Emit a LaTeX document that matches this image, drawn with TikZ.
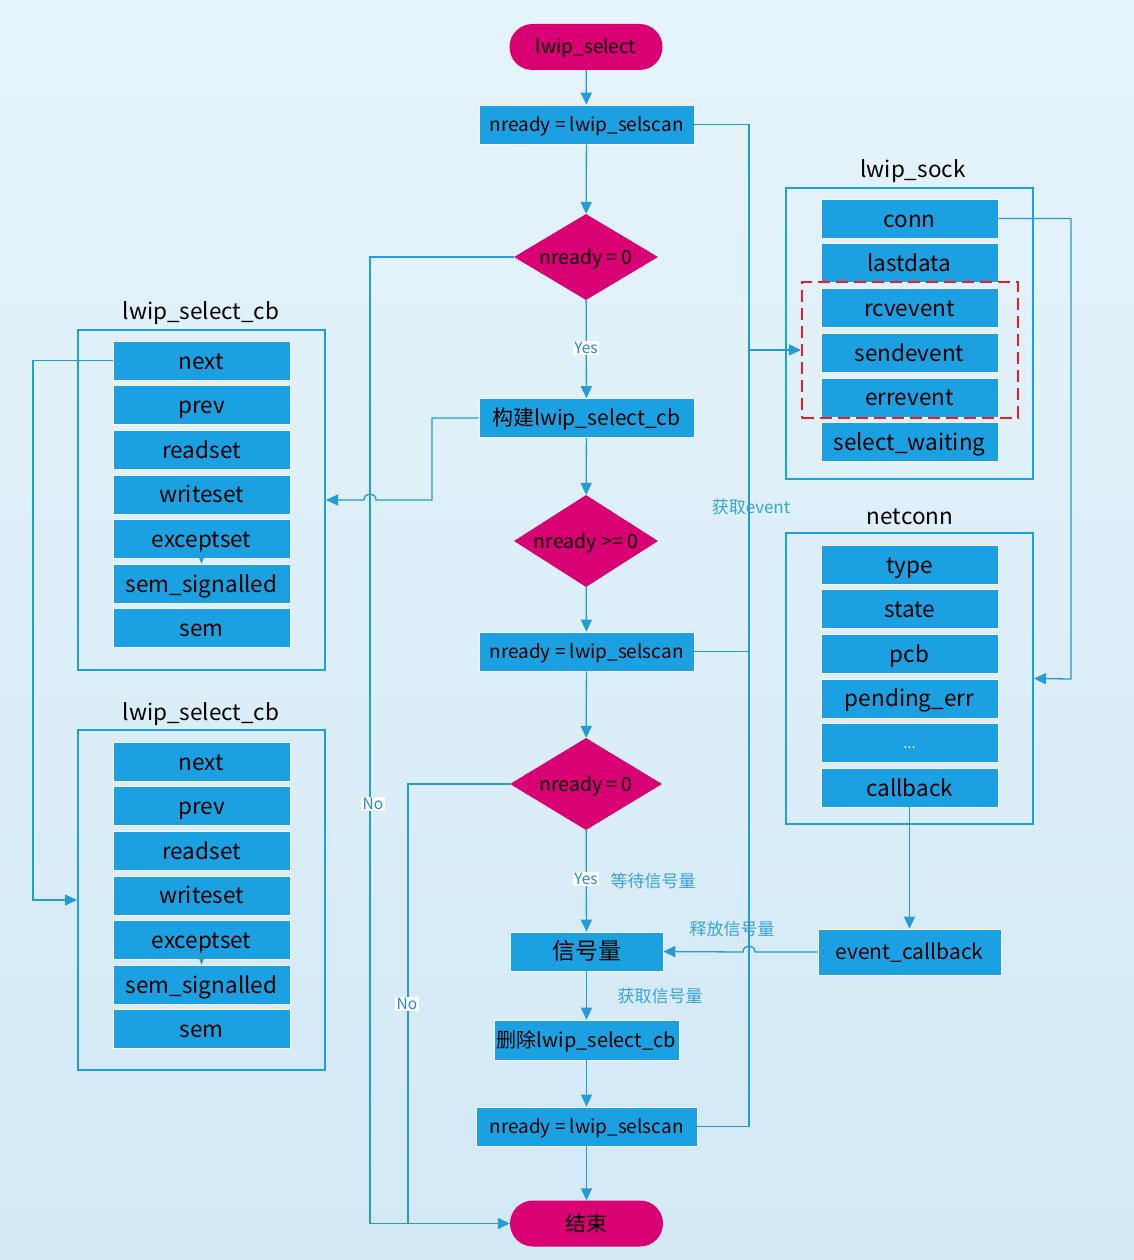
\documentclass[tikz,border=0pt]{standalone}
\usepackage{fontspec}
\setmainfont{Noto Sans CJK SC}
\usetikzlibrary{arrows.meta,shapes.geometric}
\definecolor{fblue}{HTML}{1BA1E2}
\definecolor{mag}{HTML}{D80073}
\definecolor{lnc}{HTML}{239CD8}
\definecolor{lbl}{HTML}{3AA2DC}
\definecolor{ynt}{HTML}{2A8CC6}
\definecolor{bgt}{HTML}{E6F4FB}
\definecolor{bgb}{HTML}{D3E9F6}
\definecolor{dred}{HTML}{EE1C25}
\begin{document}
\begin{tikzpicture}[x=1pt,y=-1pt,
 field/.style={draw=white, line width=0.6pt, fill=fblue, minimum width=177pt, minimum height=39pt, inner sep=0pt, text height=17pt, text depth=0pt, font=\fontsize{22.5}{26}\selectfont},
 proc/.style={draw=white, line width=0.6pt, fill=fblue, minimum height=39pt, inner sep=0pt, text height=14pt, text depth=0pt, font=\fontsize{19}{22}\selectfont},
 term/.style={fill=mag, rounded corners=23pt, minimum width=153pt, minimum height=46pt, inner sep=0pt, text height=14pt, text depth=0pt, font=\fontsize{19}{22}\selectfont},
 dec/.style={diamond, aspect=2.2, fill=mag, inner sep=0pt, minimum width=144pt, minimum height=86pt, text height=14pt, text depth=0pt, font=\fontsize{19.5}{22}\selectfont},
 outer/.style={draw=fblue, line width=2pt, inner sep=0pt},
 title/.style={inner sep=0pt, font=\fontsize{22.5}{26}\selectfont},
 conn/.style={draw=lnc, line width=1.3pt},
 arr/.style={conn, -{Triangle[length=12pt,width=11pt]}},
 yn/.style={fill=white, text=ynt, inner sep=1.5pt, font=\fontsize{15.5}{18}\selectfont},
 note/.style={text=lbl, inner sep=0pt, font=\fontsize{17}{19}\selectfont}
]
\fill[top color=bgt, bottom color=bgb] (0,0) rectangle (1134,1260);
\useasboundingbox (0,0) rectangle (1134,1260);

% ---------- main flow ----------
\node[term] (start) at (586,47) {lwip\_select};
\node[proc, minimum width=215pt] (p1) at (586.5,124.5) {nready = lwip\_selscan};
\node[dec] (d1) at (586,257) {nready = 0};
\node[proc, minimum width=215pt, font=\fontsize{21}{24}\selectfont, text height=15pt] (p2) at (586.5,418) {构建lwip\_select\_cb};
\node[dec, minimum height=92pt] (d2) at (586,541) {nready >= 0};
\node[proc, minimum width=215pt] (p3) at (586.5,651.5) {nready = lwip\_selscan};
\node[dec, minimum width=152pt, minimum height=92pt] (d3) at (586,784) {nready = 0};
\node[proc, minimum width=153pt, font=\fontsize{23}{26}\selectfont, text height=16pt] (sem) at (586.5,951.5) {信号量};
\node[proc, minimum width=185pt, minimum height=40pt, font=\fontsize{20}{24}\selectfont, text height=15pt] (del) at (586.5,1040) {删除lwip\_select\_cb};
\node[proc, minimum width=221pt] (p5) at (586.5,1126.5) {nready = lwip\_selscan};
\node[term, font=\fontsize{21}{24}\selectfont, text height=15pt] (end) at (586.5,1223.5) {结束};

% ---------- lwip_select_cb #1 ----------
\node[outer, minimum width=247pt, minimum height=340pt] (cb1) at (201.5,500) {};
\node[title] (t1) at (201,313) {lwip\_select\_cb};
\node[field] (a1) at (201.5,360.5) {next};
\node[field] (a2) at (201.5,405.1) {prev};
\node[field] (a3) at (201.5,449.7) {readset};
\node[field] (a4) at (201.5,494.3) {writeset};
\node[field] (a5) at (201.5,538.9) {exceptset};
\node[field] (a6) at (201.5,583.5) {sem\_signalled};
\node[field] (a7) at (201.5,628.1) {sem};

% ---------- lwip_select_cb #2 ----------
\node[outer, minimum width=247pt, minimum height=340pt] (cb2) at (201.5,900) {};
\node[title] (t2) at (201,714) {lwip\_select\_cb};
\node[field] (b1) at (201.5,761.5) {next};
\node[field] (b2) at (201.5,806.1) {prev};
\node[field] (b3) at (201.5,850.7) {readset};
\node[field] (b4) at (201.5,895.3) {writeset};
\node[field] (b5) at (201.5,939.9) {exceptset};
\node[field] (b6) at (201.5,984.5) {sem\_signalled};
\node[field] (b7) at (201.5,1029.1) {sem};

% ---------- lwip_sock ----------
\node[outer, minimum width=247pt, minimum height=291pt] (sock) at (909.5,333.5) {};
\node[title] (t3) at (913,171) {lwip\_sock};
\node[field] (s1) at (909.5,218.5) {conn};
\node[field] (s2) at (909.5,263.2) {lastdata};
\node[field] (s3) at (909.5,307.9) {rcvevent};
\node[field] (s4) at (909.5,352.6) {sendevent};
\node[field] (s5) at (909.5,397.3) {errevent};
\node[field] (s6) at (909.5,442) {select\_waiting};
\node[draw=dred, dash pattern=on 12pt off 6pt, line width=2pt, minimum width=216pt, minimum height=136pt, inner sep=0pt] (evts) at (910,350) {};

% ---------- netconn ----------
\node[outer, minimum width=247pt, minimum height=291pt] (nc) at (909.5,678.5) {};
\node[title] (t4) at (910,517) {netconn};
\node[field] (n1) at (909.5,564.5) {type};
\node[field] (n2) at (909.5,609.1) {state};
\node[field] (n3) at (909.5,653.7) {pcb};
\node[field] (n4) at (909.5,698.3) {pending\_err};
\node[field, font=\fontsize{15}{16}\selectfont, text=white, text height=12pt] (n5) at (909.5,742.9) {...};
\node[field] (n6) at (909.5,787.5) {callback};
\node[proc, minimum width=183pt, minimum height=46pt, font=\fontsize{21}{24}\selectfont, text height=15pt] (evcb) at (909.5,952) {event\_callback};

% ---------- main vertical connectors ----------
\draw[arr] (start) -- (p1);
\draw[arr] (p1) -- (d1);
\draw[arr] (d1) -- (p2);
\draw[arr] (p2) -- (d2);
\draw[arr] (d2) -- (p3);
\draw[arr] (p3) -- (d3);
\draw[arr] (d3) -- (sem);
\draw[arr] (sem) -- (del);
\draw[arr] (del) -- (p5);
\draw[arr] (p5) -- (end);

% labels on the flow
\node[yn] (yes1) at (586,348) {Yes};
\node[yn] (yes2) at (586,879) {Yes};
\node[note] (w1) at (653,881) {等待信号量};
\node[note] (w2) at (660,996) {获取信号量};

% ---------- No branches ----------
\draw[arr] (d1.west) -- (370,257) -- (370,1223.5) -- (end.west);
\draw[conn] (d3.west) -- (408,784) -- (408,1223.5);
\node[yn] (no1) at (373,804) {No};
\node[yn] (no2) at (407,1004) {No};

% ---------- build cb -> lwip_select_cb ----------
\draw[arr] (p2.west) -- (432,418) -- (432,500) -- (376,500)
  .. controls (376,492) and (364,492) .. (364,500) -- (cb1.east);

% ---------- selscan -> events ----------
\draw[conn] (p1.east) -- (749,124.5) -- (749,1126.5) -- (p5.east);
\draw[conn] (p3.east) -- (749,651.5);
\draw[arr] (749,350) -- (evts.west);
\node[note] (ge) at (751,507) {获取event};

% ---------- list link ----------
\draw[arr] (a1.west) -- (33,360.5) -- (33,900) -- (cb2.west);

% ---------- conn -> netconn ----------
\draw[arr] (s1.east) -- (1071,218.5) -- (1071,679) -- (nc.east);

% ---------- callback ----------
\draw[arr] (n6.south) -- (evcb.north);
\draw[arr] (evcb.west) -- (755,952) .. controls (755,944) and (743,944) .. (743,952) -- (sem.east);
\node[note] (rel) at (732,929) {释放信号量};

% tiny arrowheads between exceptset and sem_signalled
\draw[conn, line width=0.5pt, -{Triangle[length=9pt,width=7pt]}] ([yshift=9pt]a5.south) -- (a6.north);
\draw[conn, line width=0.5pt, -{Triangle[length=9pt,width=7pt]}] ([yshift=9pt]b5.south) -- (b6.north);
\end{tikzpicture}
\end{document}
